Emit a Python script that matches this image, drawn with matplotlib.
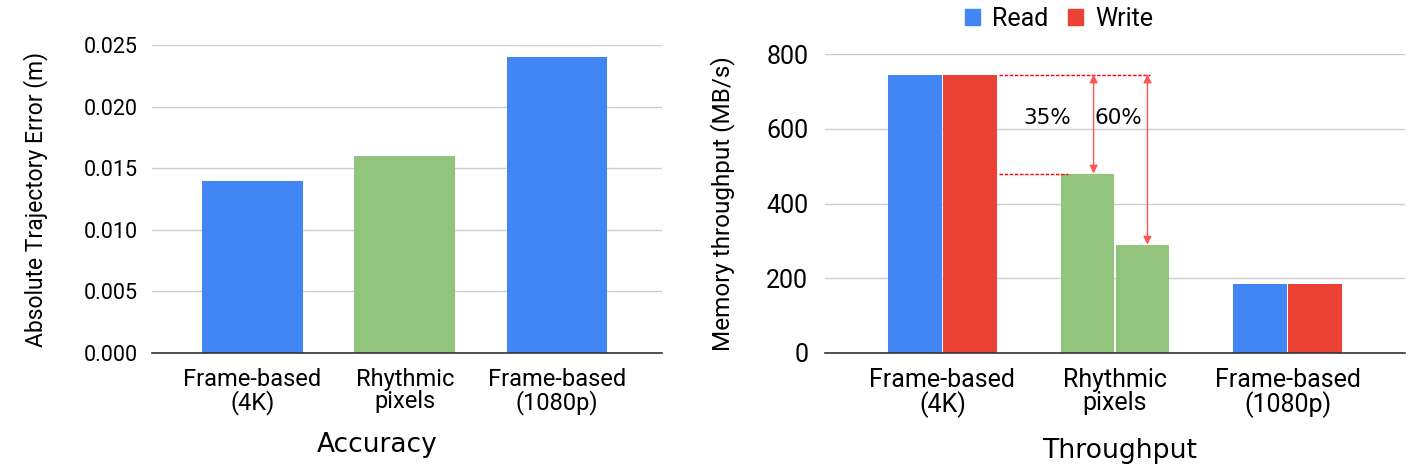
import matplotlib
matplotlib.use("Agg")
import matplotlib.pyplot as plt
import numpy as np
from matplotlib.patches import Patch

categories = ["Frame-based\n(4K)", "Rhythmic\npixels", "Frame-based\n(1080p)"]
ate_values = [0.014, 0.016, 0.024]
ate_colors = ["#4285F4", "#93C47D", "#4285F4"]
read_values = [745, 480, 185]
write_values = [745, 290, 185]
read_colors = ["#4285F4", "#93C47D", "#4285F4"]
write_colors = ["#EA4335", "#93C47D", "#EA4335"]
left_yticks = [0.000, 0.005, 0.010, 0.015, 0.020, 0.025]
right_yticks = [0, 200, 400, 600, 800]

TICKFONT = "Roboto"
fig = plt.figure(figsize=(14.14, 4.71), dpi=100)

def style(ax):
    for s in ["top", "right", "left"]:
        ax.spines[s].set_visible(False)
    ax.spines["bottom"].set_color("#333333")
    ax.spines["bottom"].set_linewidth(1.2)
    ax.grid(axis="y", color="#cccccc", linewidth=1)
    ax.set_axisbelow(True)
    ax.tick_params(axis="both", length=0)

# Left chart
ax1 = fig.add_axes([152/1414, 1-353/471, (662-152)/1414, (353-45)/471])
x = np.arange(len(categories))
ax1.bar(x, ate_values, width=0.66, color=ate_colors)
ax1.set_xlim(-0.66, 2.69)
ax1.set_ylim(0, 0.025)
ax1.set_yticks(left_yticks)
ax1.set_yticklabels([f"{v:.3f}" for v in left_yticks], fontsize=15.5, family=TICKFONT)
ax1.set_xticks(x)
ax1.set_xticklabels(categories, fontsize=17, family=TICKFONT, linespacing=0.95)
ax1.tick_params(axis="y", pad=10)
ax1.tick_params(axis="x", pad=11)
style(ax1)
ax1.set_ylabel("Absolute Trajectory Error (m)", fontsize=16.5, family=TICKFONT)
ax1.yaxis.set_label_coords((48-152)/510, 0.5)
fig.text(377/1414, 1-445/471, "Accuracy", fontsize=19, ha="center", va="center")

# Right chart
ax2 = fig.add_axes([825/1414, 1-353/471, (1405-825)/1414, (353-54)/471])
w = 0.31
gap = 0.01
ax2.bar(x - (w+gap)/2, read_values, width=w, color=read_colors)
ax2.bar(x + (w+gap)/2, write_values, width=w, color=write_colors)
ax2.set_xlim(-0.68, 2.68)
ax2.set_ylim(0, 800)
ax2.set_yticks(right_yticks)
ax2.set_yticklabels([str(v) for v in right_yticks], fontsize=18, family=TICKFONT)
ax2.set_xticks(x)
ax2.set_xticklabels(categories, fontsize=18, family=TICKFONT, linespacing=0.95)
ax2.tick_params(axis="y", pad=12)
ax2.tick_params(axis="x", pad=11)
style(ax2)
ax2.set_ylabel("Memory throughput (MB/s)", fontsize=17.5, family=TICKFONT)
ax2.yaxis.set_label_coords((735-825)/580, 0.5)
fig.text(1120/1414, 1-451/471, "Throughput", fontsize=19.3, ha="center", va="center")

# annotations
top = write_values[0]
ax2.plot([0.33, 1.20], [top, top], color="red", linestyle=(0, (2.5, 1.2)), linewidth=1)
ax2.plot([0.33, 0.73], [read_values[1], read_values[1]], color="red", linestyle=(0, (2.5, 1.2)), linewidth=1)
ax2.annotate("", xy=(0.876, read_values[1]), xytext=(0.876, top),
             arrowprops=dict(arrowstyle="<|-|>", color="#ff5555", lw=1, mutation_scale=12, shrinkA=0, shrinkB=0))
ax2.annotate("", xy=(1.188, write_values[1]), xytext=(1.188, top),
             arrowprops=dict(arrowstyle="<|-|>", color="#ff5555", lw=1, mutation_scale=12, shrinkA=0, shrinkB=0))
ax2.text(0.605, 629, "35%", fontsize=15.5, ha="center", va="center")
ax2.text(1.02, 629, "60%", fontsize=15.5, ha="center", va="center")

handles = [Patch(color="#4285F4", label="Read"), Patch(color="#EA4335", label="Write")]
fig.legend(handles=handles, loc="center", bbox_to_anchor=(1059/1414, 1-19/471), ncol=2,
           frameon=False, prop={"family": TICKFONT, "size": 18}, handlelength=0.6, handleheight=0.6,
           handletextpad=0.5, columnspacing=0.75, borderpad=0)

fig.savefig("out.png", dpi=100)
